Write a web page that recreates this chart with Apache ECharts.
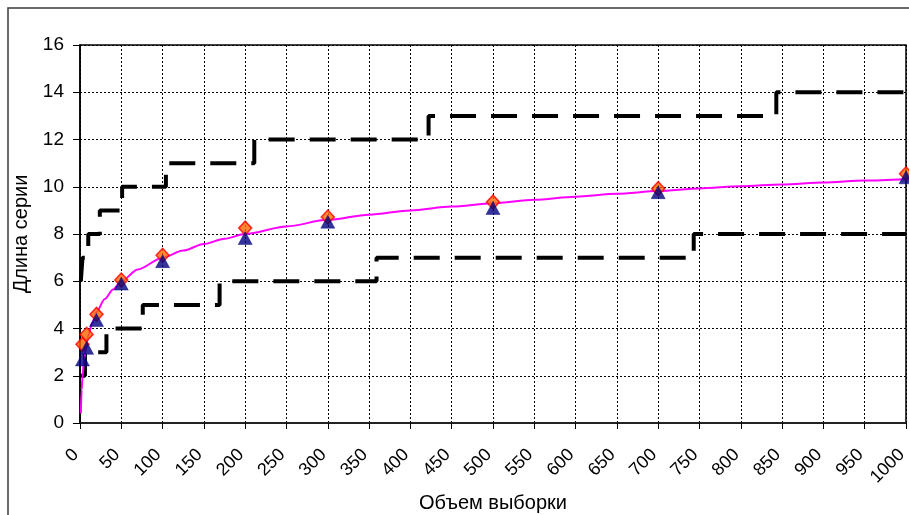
<!DOCTYPE html>
<html><head><meta charset="utf-8">
<script src="https://cdn.jsdelivr.net/npm/echarts@6/dist/echarts.min.js"></script>
<style>html,body{margin:0;padding:0;background:#fff}#c{width:909px;height:515px}</style>
</head><body><div id="c"></div>
<script>
// x ticks / y ticks
const xTicks = [0,50,100,150,200,250,300,350,400,450,500,550,600,650,700,750,800,850,900,950,1000];
const yTicks = [0,2,4,6,8,10,12,14,16];
// smooth reference curve (magenta)
const curveN = [1,2,3,5,8,10,15,20,30,40,50,70,100,125,150,175,200,250,300,350,400,450,500,550,600,650,700,750,800,850,900,950,1000];
const curveV = [0.4,1.4,1.95,2.7,3.35,3.7,4.25,4.7,5.25,5.65,6.0,6.5,7.0,7.3,7.58,7.8,8.0,8.32,8.6,8.82,9.0,9.16,9.3,9.45,9.58,9.7,9.82,9.93,10.02,10.1,10.18,10.26,10.33];
// marker series
const markN = [3,8,20,50,100,200,300,500,700,1000];
const diamondV = [3.33,3.75,4.6,6.05,7.1,8.25,8.72,9.35,9.92,10.55];
const triangleV = [2.69,3.18,4.36,5.9,6.85,7.83,8.52,9.1,9.77,10.4];
// upper staircase (step points: n where value changes)
const upperN = [1,3,10,24,51,104,211,422,843,1000];
const upperV = [6,7,8,9,10,11,12,13,14,14];
// lower staircase
const lowerN = [1,6,32,76,169,359,743,1000];
const lowerV = [2,3,4,5,6,7,8,8];

const zip = (a,b)=>a.map((v,i)=>[v,b[i]]);
const chart = echarts.init(document.getElementById('c'));
const font = 'Liberation Sans, Arial, sans-serif';
chart.setOption({
  animation:false,
  backgroundColor:'#fff',
  graphic:[{type:'rect',shape:{x:8,y:8,width:1000,height:1000},style:{fill:'none',stroke:'#3a3a3a',lineWidth:1.5},silent:true}],
  grid:{left:80,right:3,top:45,bottom:92,containLabel:false,outerBoundsMode:'none',
    show:true,borderColor:'#000',borderWidth:1.5},
  xAxis:{type:'value',min:xTicks[0],max:xTicks[xTicks.length-1],interval:50,
    name:'Объем выборки',nameLocation:'middle',nameGap:66,
    nameTextStyle:{fontFamily:font,fontSize:20,color:'#000'},
    axisLine:{lineStyle:{color:'#222',width:2}},
    axisTick:{show:true,length:6,lineStyle:{color:'#000'}},
    axisLabel:{rotate:45,margin:12,align:'right',verticalAlign:'top',
      formatter:v=>'{t|'+v+'}',
      rich:{t:{fontFamily:font,fontSize:18,color:'#000',padding:[0,15,0,0]}},
      fontFamily:font,fontSize:18,color:'#000'},
    splitLine:{show:true,lineStyle:{color:'#000',type:[2,2],width:1}}},
  yAxis:{type:'value',min:yTicks[0],max:yTicks[yTicks.length-1],interval:2,
    name:'Длина серии',nameLocation:'middle',nameGap:45,
    nameTextStyle:{fontFamily:font,fontSize:20,color:'#000'},
    axisLine:{show:true,lineStyle:{color:'#000',width:1.5}},
    axisTick:{show:true,length:7,lineStyle:{color:'#000'}},
    axisLabel:{margin:16,fontFamily:font,fontSize:19,color:'#000'},
    splitLine:{show:true,lineStyle:{color:'#000',type:[2,2],width:1}}},
  series:[
    {type:'line',data:zip(upperN,upperV),step:'end',symbol:'none',
      lineStyle:{color:'#000',width:4,type:[26,15],cap:'butt'},z:3},
    {type:'line',data:zip(lowerN,lowerV),step:'end',symbol:'none',
      lineStyle:{color:'#000',width:4,type:[26,15],cap:'butt'},z:3},
    {type:'line',data:zip(curveN,curveV),smooth:0.3,smoothMonotone:'x',symbol:'none',
      lineStyle:{color:'#FF00FF',width:2},z:4},
    {type:'scatter',data:zip(markN,diamondV),symbol:'diamond',symbolSize:[13,14],
      itemStyle:{color:'#FF6600',borderColor:'#FF0000',borderWidth:1.5},z:5},
    {type:'scatter',data:zip(markN,triangleV),symbol:'triangle',symbolSize:[14,13],
      itemStyle:{color:'#000080',borderColor:'#000080',borderWidth:0.5},z:6}
  ]
});
</script></body></html>
